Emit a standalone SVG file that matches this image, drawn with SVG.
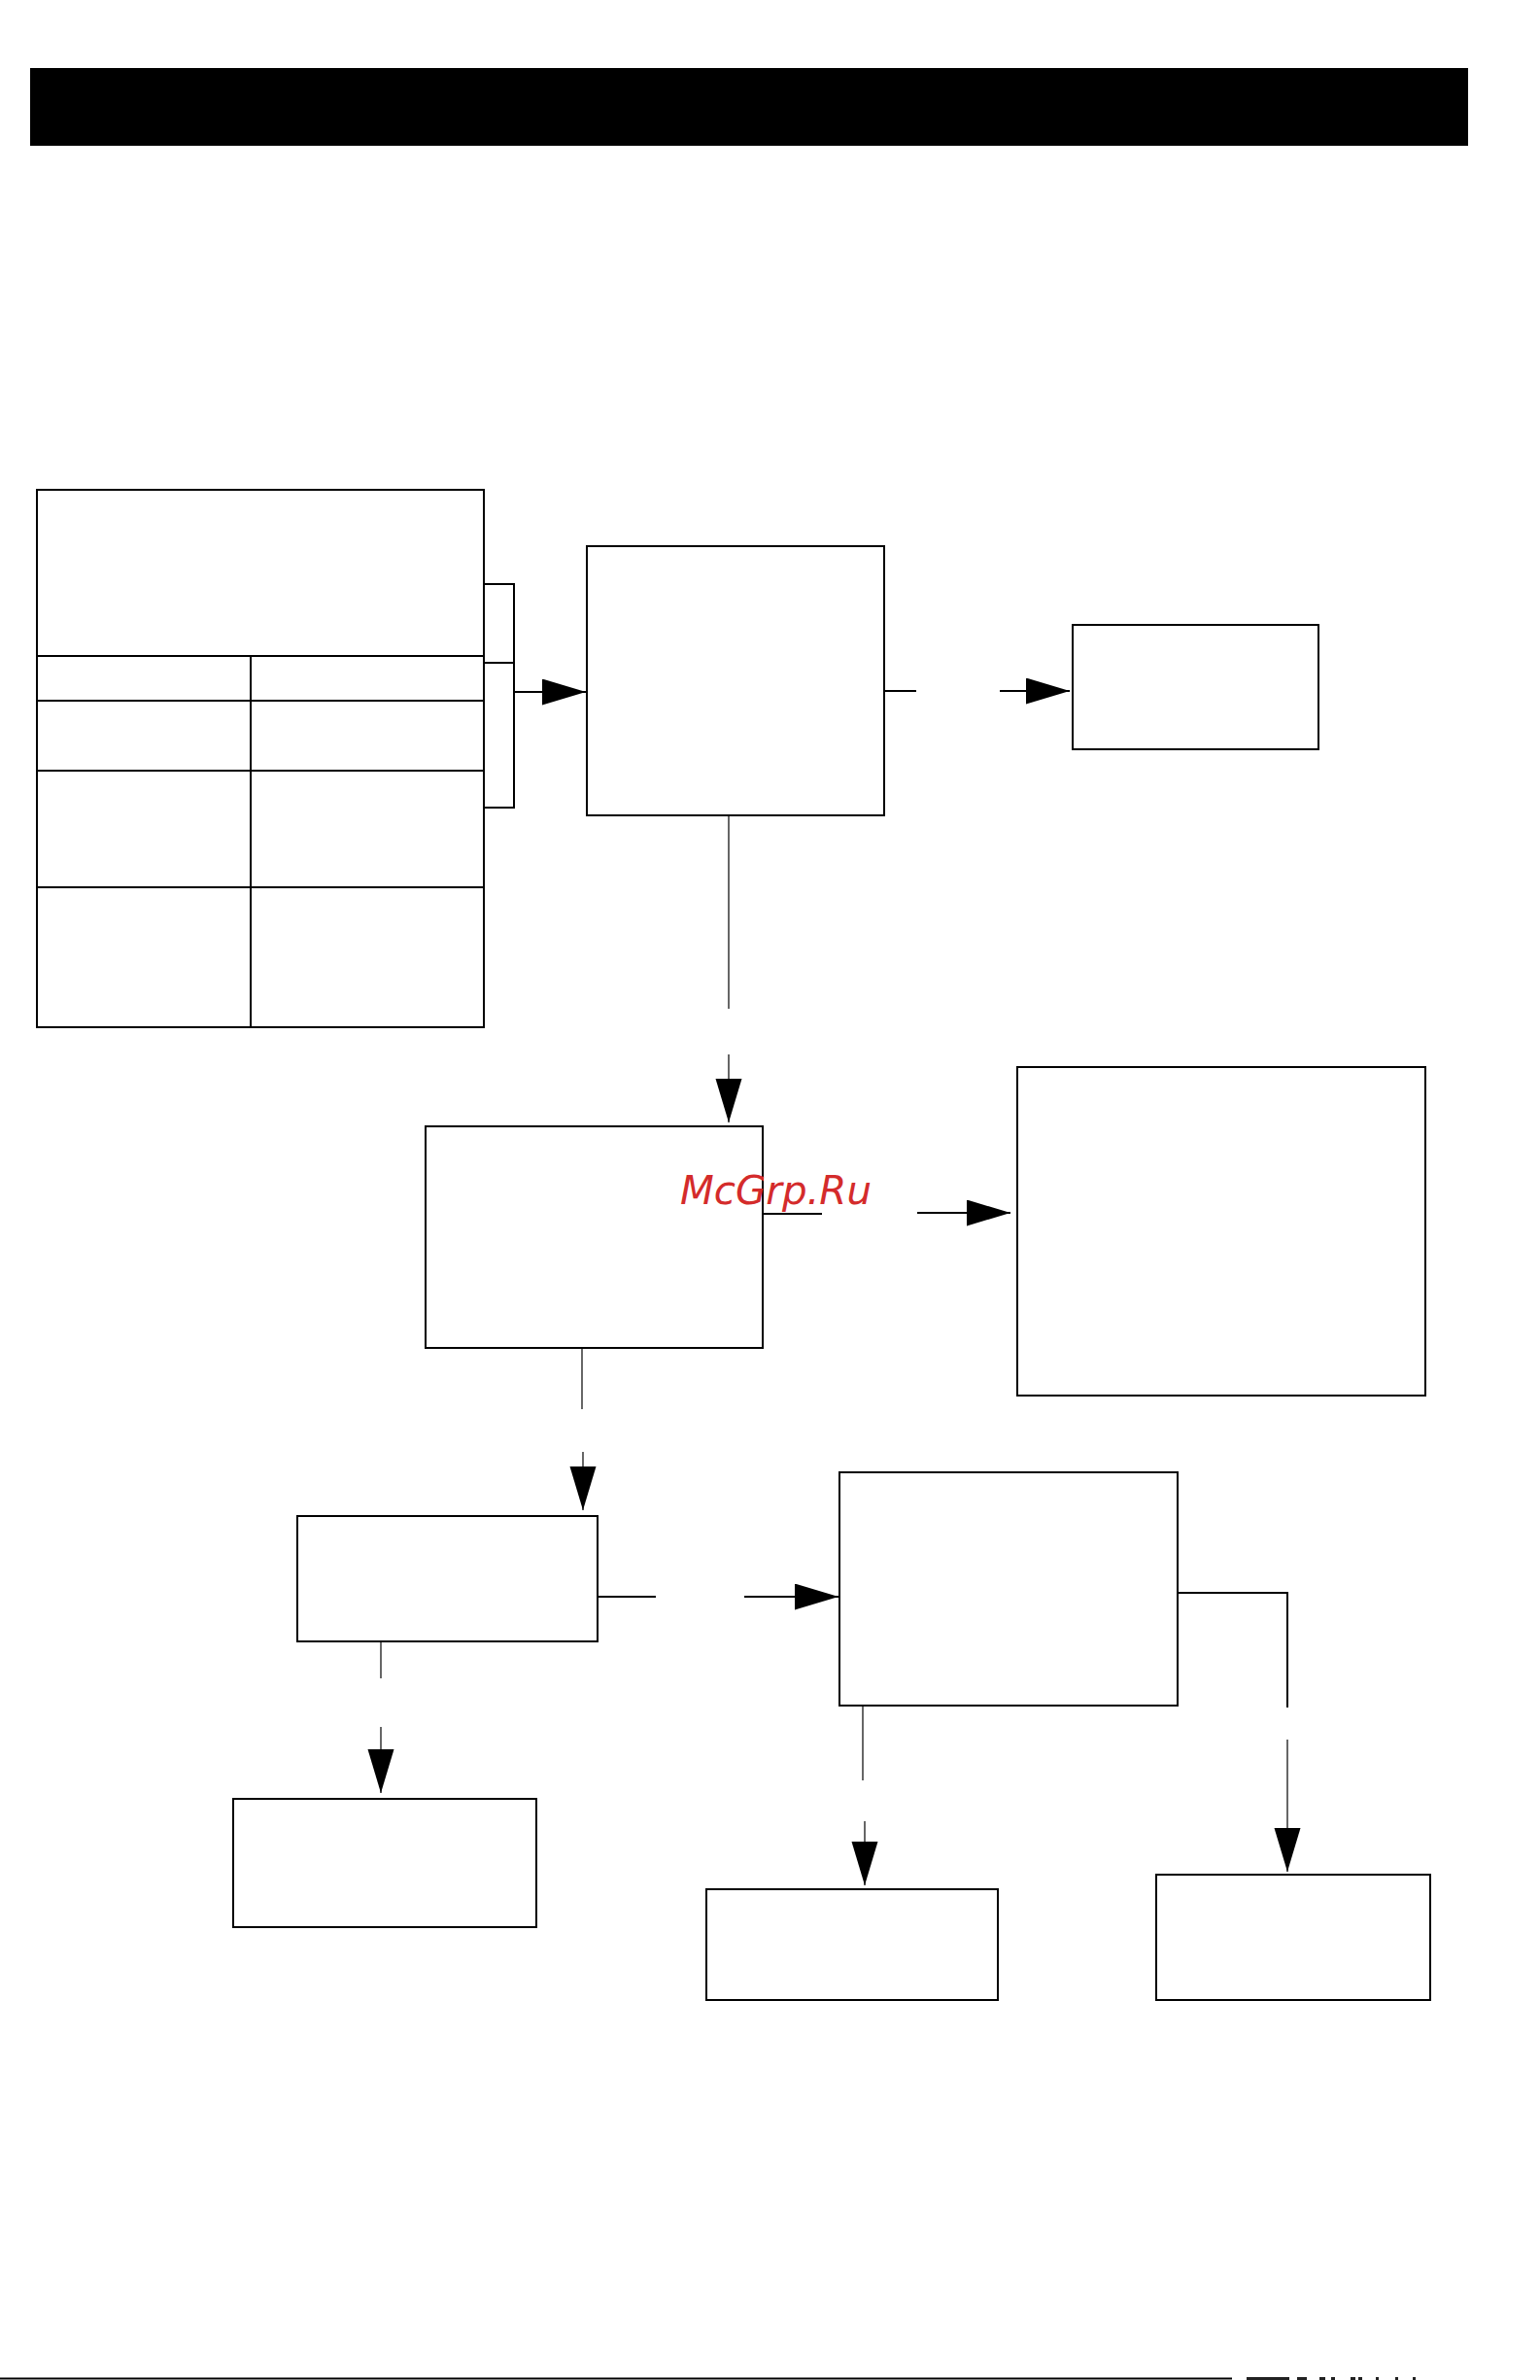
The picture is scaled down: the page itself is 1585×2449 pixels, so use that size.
<svg xmlns="http://www.w3.org/2000/svg" width="1585" height="2449" viewBox="0 0 1585 2449">
<style>
.box{fill:#fff;stroke:#000;stroke-width:2}
.ln{fill:none;stroke:#000;stroke-width:2}
.thin{fill:none;stroke:#000;stroke-width:1.2}
.wm{font-family:"DejaVu Sans",sans-serif;font-style:oblique;font-size:40px;fill:#d42b2b}
.nz{fill:#222}
</style>
<defs>
<marker id="ah" markerUnits="userSpaceOnUse" markerWidth="48" markerHeight="28" refX="45" refY="13.5" orient="auto" viewBox="0 0 48 28">
<path d="M0,0 L45,13.5 L0,27 Z" fill="#000"/>
</marker>
</defs>
<rect width="1585" height="2449" fill="#fff"/>
<rect id="header" x="31" y="70" width="1480" height="80" fill="#000"/>
<g id="table">
<rect class="box" x="38" y="504" width="460" height="553"/>
<line class="ln" x1="38" y1="675" x2="498" y2="675"/>
<line class="ln" x1="38" y1="721" x2="498" y2="721"/>
<line class="ln" x1="38" y1="793" x2="498" y2="793"/>
<line class="ln" x1="38" y1="913" x2="498" y2="913"/>
<line class="ln" x1="258" y1="675" x2="258" y2="1057"/>
</g>
<g id="box2"><rect class="box" x="604" y="562" width="306" height="277"/></g>
<g id="box3"><rect class="box" x="1104" y="643" width="253" height="128"/></g>
<g id="box4"><rect class="box" x="438" y="1159" width="347" height="228"/></g>
<g id="box5"><rect class="box" x="1047" y="1098" width="420" height="338"/></g>
<g id="box6"><rect class="box" x="306" y="1560" width="309" height="129"/></g>
<g id="box7"><rect class="box" x="864" y="1515" width="348" height="240"/></g>
<g id="box8"><rect class="box" x="240" y="1851" width="312" height="132"/></g>
<g id="box9"><rect class="box" x="1190" y="1929" width="282" height="129"/></g>
<g id="box10"><rect class="box" x="727" y="1944" width="300" height="114"/></g>
<g id="connectors">
<polyline class="ln" points="498,601 529,601 529,831 498,831"/>
<line class="ln" x1="498" y1="682" x2="529" y2="682"/>
<line class="ln" x1="529" y1="712" x2="603" y2="712" marker-end="url(#ah)"/>
<line class="ln" x1="910" y1="711" x2="943" y2="711"/>
<line class="ln" x1="1029" y1="711" x2="1101" y2="711" marker-end="url(#ah)"/>
<line class="thin" x1="750" y1="839" x2="750" y2="1038"/>
<line class="thin" x1="750" y1="1085" x2="750" y2="1155" marker-end="url(#ah)"/>
<line class="ln" x1="785" y1="1249" x2="846" y2="1249"/>
<line class="ln" x1="944" y1="1248" x2="1040" y2="1248" marker-end="url(#ah)"/>
<line class="thin" x1="599" y1="1387" x2="599" y2="1450"/>
<line class="thin" x1="600" y1="1494" x2="600" y2="1554" marker-end="url(#ah)"/>
<line class="ln" x1="614" y1="1643" x2="675" y2="1643"/>
<line class="ln" x1="766" y1="1643" x2="863" y2="1643" marker-end="url(#ah)"/>
<polyline class="ln" points="1212,1639 1325,1639 1325,1757"/>
<line class="thin" x1="1325" y1="1790" x2="1325" y2="1926" marker-end="url(#ah)"/>
<line class="thin" x1="392" y1="1689" x2="392" y2="1727"/>
<line class="thin" x1="392" y1="1777" x2="392" y2="1845" marker-end="url(#ah)"/>
<line class="thin" x1="888" y1="1755" x2="888" y2="1832"/>
<line class="thin" x1="890" y1="1874" x2="890" y2="1940" marker-end="url(#ah)"/>
</g>
<text class="wm" x="700" y="1239" textLength="197" lengthAdjust="spacingAndGlyphs">McGrp.Ru</text>
<line class="ln" x1="0" y1="2447.5" x2="1268" y2="2447.5"/>
<g id="edge-noise">
<rect class="nz" x="1283" y="2446" width="44" height="3"/>
<rect class="nz" x="1335" y="2446" width="10" height="3"/>
<rect class="nz" x="1358" y="2446" width="6" height="3"/>
<rect class="nz" x="1370" y="2446" width="4" height="3"/>
<rect class="nz" x="1390" y="2446" width="5" height="3"/>
<rect class="nz" x="1398" y="2446" width="4" height="3"/>
<rect class="nz" x="1416" y="2446" width="3" height="3"/>
<rect class="nz" x="1436" y="2446" width="3" height="3"/>
<rect class="nz" x="1454" y="2446" width="3" height="3"/>
</g>
</svg>
